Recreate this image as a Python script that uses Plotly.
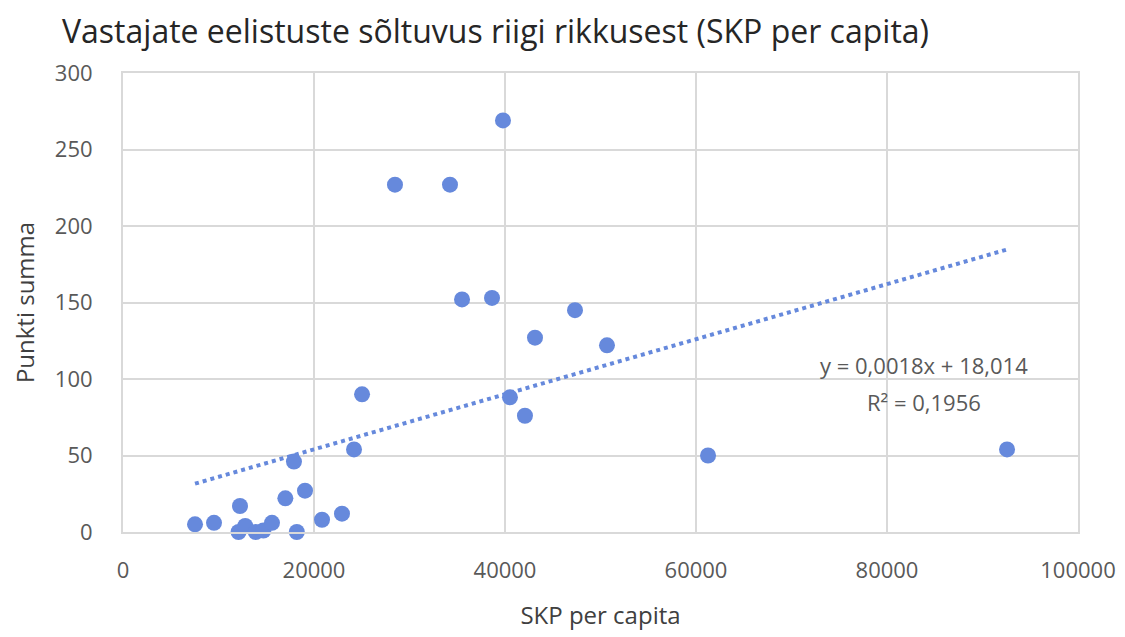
import plotly.graph_objects as go
import numpy as np

# Data
gdp = [7540, 9530, 12250, 12100, 12800, 13900, 14700, 15600, 17000, 17900, 18200,
       19060, 20840, 22930, 24190, 25030, 28480, 34240, 35500, 38640, 39790,
       40520, 42090, 43140, 47330, 50680, 61260, 92570]
points = [5, 6, 17, 0, 4, 0, 1, 6, 22, 46, 0,
          27, 8, 12, 54, 90, 227, 227, 152, 153, 269,
          88, 76, 127, 145, 122, 50, 54]

trend_slope = 0.0018
trend_intercept = 18.014
trend_eq = "y = 0,0018x + 18,014"
trend_r2 = "R² = 0,1956"

x_ticks = [0, 20000, 40000, 60000, 80000, 100000]
y_ticks = [0, 50, 100, 150, 200, 250, 300]

blue = "#6689DC"
grey_text = "#595959"
grid = "#D9D9D9"
font = "'Open Sans', sans-serif"

# page has an 8px body margin; figure sized to fit the window
W, H = 1117, 629
OFF = 8

tx = np.array([min(gdp), max(gdp)])
ty = trend_slope * tx + trend_intercept

fig = go.Figure()
fig.add_trace(go.Scatter(x=tx, y=ty, mode="lines",
                         line=dict(color=blue, width=4, dash="dot"),
                         hoverinfo="skip", showlegend=False))
fig.add_trace(go.Scatter(x=gdp, y=points, mode="markers",
                         marker=dict(color=blue, size=16),
                         showlegend=False, cliponaxis=False))

fig.add_annotation(x=83900, y=109, xref="x", yref="y", text=trend_eq,
                   showarrow=False, align="center",
                   font=dict(family=font, size=22, color=grey_text))
fig.add_annotation(x=83900, y=85, xref="x", yref="y", text=trend_r2,
                   showarrow=False, align="center",
                   font=dict(family=font, size=22, color=grey_text))

fig.update_layout(
    width=W, height=H,
    margin=dict(l=123 - OFF, r=W - (1078 - OFF), t=73 - OFF, b=H - (532 - OFF)),
    paper_bgcolor="white", plot_bgcolor="white",
    title=dict(text="Vastajate eelistuste sõltuvus riigi rikkusest (SKP per capita)",
               x=(62 - OFF) / W, xanchor="left", y=1 - (32 - OFF) / H, yanchor="middle",
               font=dict(family=font, size=32, color="#262626")),
    font=dict(family=font, color=grey_text),
)
fig.update_xaxes(range=[0, 100000], tickvals=x_ticks, ticktext=[str(v) for v in x_ticks],
                 automargin=False,
                 showgrid=True, gridcolor=grid, gridwidth=2, zeroline=False,
                 showline=True, linecolor=grid, linewidth=2, mirror=True,
                 tickfont=dict(family=font, size=22, color=grey_text), ticks="",
                 ticklabelstandoff=18,
                 title=dict(text="SKP per capita", standoff=24,
                            font=dict(family=font, size=24, color="#404040")))
fig.update_yaxes(range=[0, 300], tickvals=y_ticks,
                 automargin=False,
                 showgrid=True, gridcolor=grid, gridwidth=2, zeroline=False,
                 showline=True, linecolor=grid, linewidth=2, mirror=True,
                 tickfont=dict(family=font, size=22, color=grey_text), ticks="",
                 ticklabelstandoff=24,
                 title=dict(text="Punkti summa", standoff=18,
                            font=dict(family=font, size=24, color="#404040")))

fig.write_html("out.html")
